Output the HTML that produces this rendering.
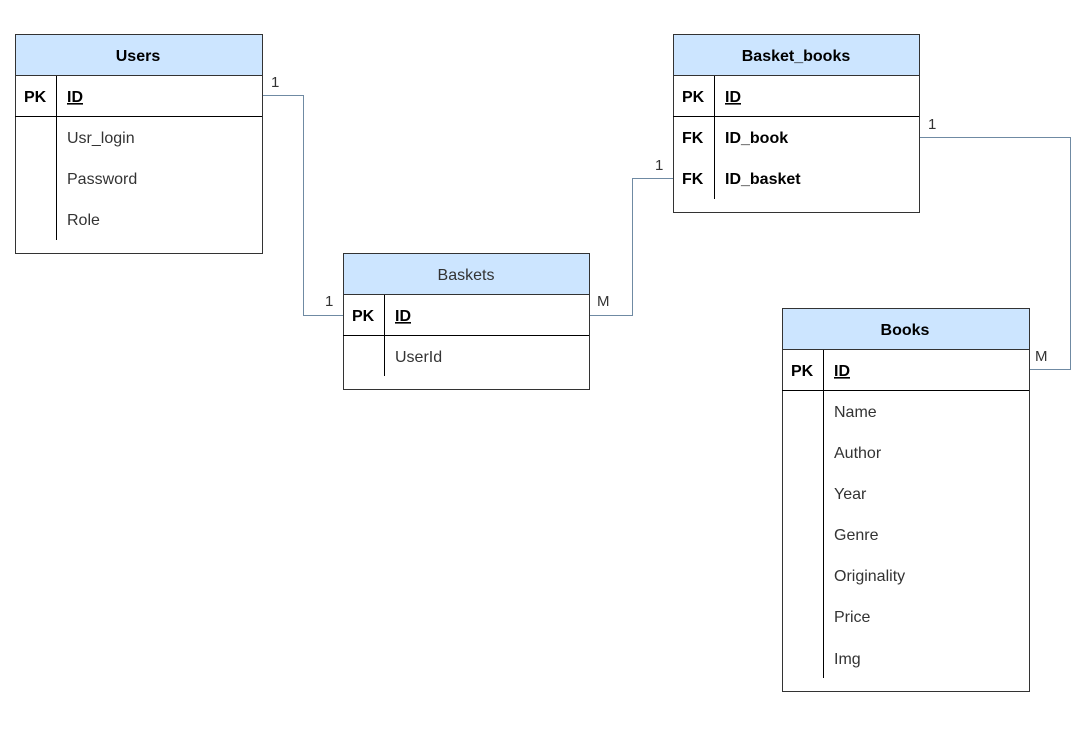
<!DOCTYPE html>
<html><head><meta charset="utf-8"><style>
html,body{margin:0;padding:0;background:#fff;}
svg{display:block;font-family:"Liberation Sans",Arial,sans-serif;}
</style></head><body>
<svg width="1085" height="729" viewBox="0 0 1085 729" xmlns="http://www.w3.org/2000/svg">
<g fill="none" stroke="#6f8aa3" stroke-width="1">
<polyline points="262.5,95.5 303.5,95.5 303.5,315.5 343.5,315.5"/>
<polyline points="589.5,315.5 632.5,315.5 632.5,178.5 673.5,178.5"/>
<polyline points="919.5,137.5 1070.5,137.5 1070.5,369.5 1029.5,369.5"/>
</g>
<g font-size="15" fill="#333">
<text x="271" y="87">1</text>
<text x="325" y="306">1</text>
<text x="597" y="306">M</text>
<text x="655" y="170">1</text>
<text x="928" y="129">1</text>
<text x="1035" y="361">M</text>
</g>
<!-- Users -->
<g>
<rect x="15.5" y="34.5" width="247" height="219" fill="#fff" stroke="#333"/>
<rect x="15.5" y="34.5" width="247" height="41" fill="#cce5ff" stroke="#333"/>
<line x1="15" y1="116.5" x2="262" y2="116.5" stroke="#000"/>
<line x1="56.5" y1="76" x2="56.5" y2="240" stroke="#000"/>
<text x="138" y="61" text-anchor="middle" font-weight="bold" font-size="16">Users</text>
<text x="24" y="102" font-weight="bold" font-size="16">PK</text>
<text x="67" y="102" font-weight="bold" font-size="16" text-decoration="underline">ID</text>
<g font-size="16" fill="#333"><text x="67" y="143">Usr_login</text><text x="67" y="184">Password</text><text x="67" y="225">Role</text></g>
</g>
<!-- Baskets -->
<g>
<rect x="343.5" y="253.5" width="246" height="136" fill="#fff" stroke="#333"/>
<rect x="343.5" y="253.5" width="246" height="41" fill="#cce5ff" stroke="#333"/>
<line x1="343" y1="335.5" x2="589" y2="335.5" stroke="#000"/>
<line x1="384.5" y1="295" x2="384.5" y2="376" stroke="#000"/>
<text x="466" y="280" text-anchor="middle" font-size="16" fill="#333">Baskets</text>
<text x="352" y="321" font-weight="bold" font-size="16">PK</text>
<text x="395" y="321" font-weight="bold" font-size="16" text-decoration="underline">ID</text>
<text x="395" y="362" font-size="16" fill="#333">UserId</text>
</g>
<!-- Basket_books -->
<g>
<rect x="673.5" y="34.5" width="246" height="178" fill="#fff" stroke="#333"/>
<rect x="673.5" y="34.5" width="246" height="41" fill="#cce5ff" stroke="#333"/>
<line x1="673" y1="116.5" x2="919" y2="116.5" stroke="#000"/>
<line x1="714.5" y1="76" x2="714.5" y2="199" stroke="#000"/>
<text x="796" y="61" text-anchor="middle" font-weight="bold" font-size="16">Basket_books</text>
<text x="682" y="102" font-weight="bold" font-size="16">PK</text>
<text x="725" y="102" font-weight="bold" font-size="16" text-decoration="underline">ID</text>
<text x="682" y="143" font-weight="bold" font-size="16">FK</text>
<text x="725" y="143" font-weight="bold" font-size="16">ID_book</text>
<text x="682" y="184" font-weight="bold" font-size="16">FK</text>
<text x="725" y="184" font-weight="bold" font-size="16">ID_basket</text>
</g>
<!-- Books -->
<g>
<rect x="782.5" y="308.5" width="247" height="383" fill="#fff" stroke="#333"/>
<rect x="782.5" y="308.5" width="247" height="41" fill="#cce5ff" stroke="#333"/>
<line x1="782" y1="390.5" x2="1029" y2="390.5" stroke="#000"/>
<line x1="823.5" y1="350" x2="823.5" y2="678" stroke="#000"/>
<text x="905" y="335" text-anchor="middle" font-weight="bold" font-size="16">Books</text>
<text x="791" y="376" font-weight="bold" font-size="16">PK</text>
<text x="834" y="376" font-weight="bold" font-size="16" text-decoration="underline">ID</text>
<g font-size="16" fill="#333">
<text x="834" y="417">Name</text><text x="834" y="458">Author</text><text x="834" y="499">Year</text>
<text x="834" y="540">Genre</text><text x="834" y="581">Originality</text><text x="834" y="622">Price</text>
<text x="834" y="664">Img</text></g>
</g>
</svg>
</body></html>
